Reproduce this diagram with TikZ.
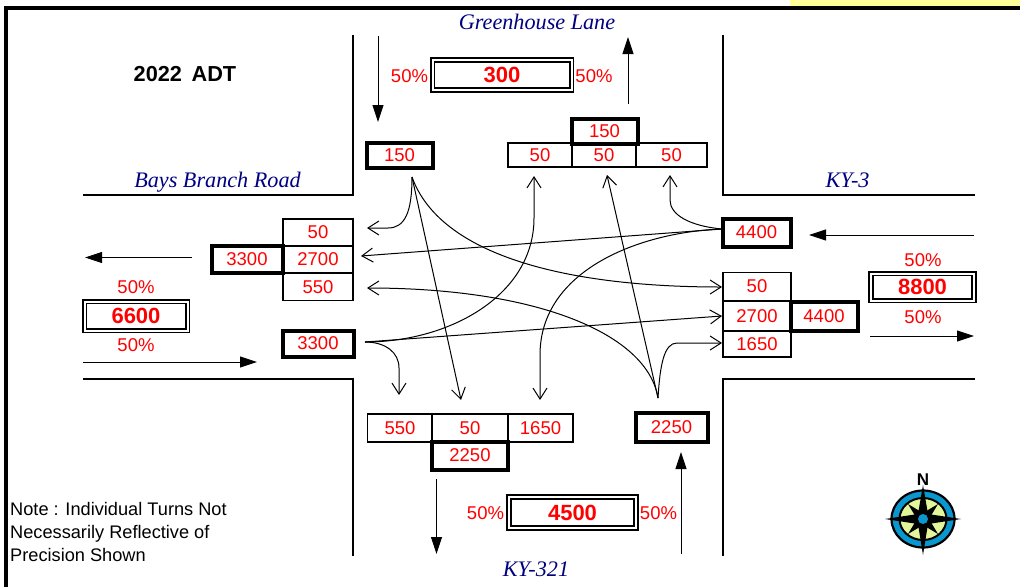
\documentclass[tikz,border=0pt]{standalone}
\usepackage{fontspec}
\setmainfont{Liberation Sans}
\newfontfamily\roadfont{Liberation Serif}
\usetikzlibrary{arrows.meta}
\definecolor{adtred}{HTML}{FF0000}
\definecolor{adtnavy}{HTML}{000080}
\definecolor{adtyellow}{HTML}{FFFF99}
\definecolor{adtblue}{HTML}{0A97D0}
\definecolor{adtpale}{HTML}{E2F59C}
\tikzset{
  adt cell/.style={draw=black, line width=1.4pt, inner sep=0pt, outer sep=0pt, text=adtred,
    font=\fontsize{18.5}{20}\selectfont},
  adt leg/.style={adt cell, line width=4pt},
  adt total/.style={adt cell, double, line width=1.6pt, double distance=2pt,
    font=\fontsize{22}{24}\selectfont\bfseries},
  adt pct/.style={inner sep=0pt, text=adtred, font=\fontsize{18.5}{20}\selectfont},
  adt road/.style={inner sep=0pt, text=adtnavy, font=\fontsize{22.2}{24}\selectfont\roadfont\itshape},
  adt note/.style={inner sep=0pt, align=left, font=\fontsize{18.2}{23}\selectfont},
  adt curb/.style={line width=2pt, draw=black},
  adt flow/.style={-{Stealth[length=17pt,width=11pt,inset=0pt]}, line width=0.9pt, draw=black},
  adt turn/.style={-{Straight Barb[length=11pt,width=14pt]}, line width=1pt, draw=black}
}
\begin{document}
\begin{tikzpicture}[x=1pt, y=-1pt]
  \useasboundingbox (0,0) rectangle (1020,587);
  \fill[adtyellow] (790,0) rectangle (1020,6);
  \draw[line width=4pt] (6,587) -- (6,8) -- (1020,8);

  \draw[adt curb] (353,35) -- (353,195) -- (83,195);
  \draw[adt curb] (723,35) -- (723,195) -- (975,195);
  \draw[adt curb] (83,379) -- (353,379) -- (353,556);
  \draw[adt curb] (975,379) -- (723,379) -- (723,556);

  \node[adt road] (greenhouse) at (537,22) {Greenhouse Lane};
  \node[adt road] (bays) at (217.5,182) {Bays Branch Road};
  \node[adt road] (kythree) at (847.5,180.5) {KY-3};
  \node[adt road] (kyroute) at (536,569.5) {KY-321};
  \node[inner sep=0pt, font=\fontsize{21.7}{24}\selectfont\bfseries] (title) at (185,74.5) {2022\, ADT};
  \node[adt note, anchor=north west] (note) at (10,502) {Note : Individual Turns Not\\Necessarily Reflective of\\Precision Shown};

  \node[adt total, minimum width=139pt, minimum height=30pt] (totaln) at (502,75) {300};
  \node[adt pct] (pctnw) at (409.5,76) {50\%};
  \node[adt pct] (pctne) at (594,76) {50\%};
  \node[adt total, minimum width=103pt, minimum height=29pt] (totalw) at (136,316) {6600};
  \node[adt pct] (pctwa) at (136,287) {50\%};
  \node[adt pct] (pctwb) at (136,345) {50\%};
  \node[adt total, minimum width=103pt, minimum height=27pt] (totale) at (922.5,287) {8800};
  \node[adt pct] (pctea) at (923,260) {50\%};
  \node[adt pct] (pcteb) at (923,317) {50\%};
  \node[adt total, minimum width=127pt, minimum height=31pt] (totals) at (572.5,512.5) {4500};
  \node[adt pct] (pctsw) at (485.5,513) {50\%};
  \node[adt pct] (pctse) at (658.5,513) {50\%};

  \node[adt cell, minimum width=64pt, minimum height=24pt] (nleft) at (540,155) {50};
  \node[adt cell, minimum width=64pt, minimum height=24pt] (nthru) at (604,155) {50};
  \node[adt cell, minimum width=71pt, minimum height=24pt] (nright) at (671.5,155) {50};
  \node[adt leg, minimum width=66pt, minimum height=25pt] (nout) at (604.5,131) {150};
  \node[adt leg, minimum width=66pt, minimum height=25pt] (nin) at (399.5,155) {150};

  \node[adt cell, minimum width=70pt, minimum height=27pt] (wtop) at (318,232.5) {50};
  \node[adt cell, minimum width=70pt, minimum height=27pt] (wthru) at (318,259.5) {2700};
  \node[adt cell, minimum width=70pt, minimum height=27pt] (wbot) at (318,287) {550};
  \node[adt leg, minimum width=71pt, minimum height=27pt] (wout) at (247,259) {3300};
  \node[adt leg, minimum width=71pt, minimum height=26pt] (win) at (318,343.5) {3300};

  \node[adt cell, minimum width=68pt, minimum height=28pt] (etop) at (757,286.5) {50};
  \node[adt cell, minimum width=68pt, minimum height=30pt] (ethru) at (757,316) {2700};
  \node[adt cell, minimum width=68pt, minimum height=26pt] (ebot) at (757,344) {1650};
  \node[adt leg, minimum width=67pt, minimum height=29pt] (eout) at (824,316) {4400};
  \node[adt leg, minimum width=68pt, minimum height=28pt] (ein) at (756.5,232.5) {4400};

  \node[adt cell, minimum width=65pt, minimum height=28pt] (sleft) at (400,428) {550};
  \node[adt cell, minimum width=76pt, minimum height=28pt] (sthru) at (470,428) {50};
  \node[adt cell, minimum width=65pt, minimum height=28pt] (sright) at (540.5,428) {1650};
  \node[adt leg, minimum width=76pt, minimum height=28pt] (sout) at (470,455.5) {2250};
  \node[adt leg, minimum width=72pt, minimum height=29pt] (sin) at (671.5,427) {2250};

  \coordinate (nflowa) at (378,36);
  \coordinate (nflowb) at (378,122);
  \coordinate (nflowc) at (628,104);
  \coordinate (nflowd) at (628,37);
  \coordinate (wflowa) at (192,257.5);
  \coordinate (wflowb) at (85,257.5);
  \coordinate (wflowc) at (83,362);
  \coordinate (wflowd) at (257,362);
  \coordinate (eflowa) at (974,235);
  \coordinate (eflowb) at (809,235);
  \coordinate (eflowc) at (870,336);
  \coordinate (eflowd) at (974,336);
  \coordinate (sflowa) at (436.5,479);
  \coordinate (sflowb) at (436.5,554);
  \coordinate (sflowc) at (681,554);
  \coordinate (sflowd) at (681,452);
  \draw[adt flow] (nflowa) -- (nflowb);
  \draw[adt flow] (nflowc) -- (nflowd);
  \draw[adt flow] (wflowa) -- (wflowb);
  \draw[adt flow] (wflowc) -- (wflowd);
  \draw[adt flow] (eflowa) -- (eflowb);
  \draw[adt flow] (eflowc) -- (eflowd);
  \draw[adt flow] (sflowa) -- (sflowb);
  \draw[adt flow] (sflowc) -- (sflowd);

  \coordinate (nturn) at (412,177);
  \coordinate (eturn) at (722,229);
  \coordinate (wturn) at (365,342);
  \coordinate (sturn) at (658,398);
  \coordinate (wtoptip) at (367,228);
  \coordinate (wthrutip) at (361,256);
  \coordinate (wbottip) at (367,288);
  \coordinate (nlefttip) at (534,176);
  \coordinate (nthrutip) at (607,175);
  \coordinate (nrighttip) at (670,175);
  \coordinate (etoptip) at (722,287);
  \coordinate (ethrutip) at (722,316);
  \coordinate (ebottip) at (722,343);
  \coordinate (slefttip) at (399,395);
  \coordinate (sthrutip) at (461,400);
  \coordinate (srighttip) at (540,400);

  \draw[adt turn] (nturn) .. controls (412,212) and (405,228) .. (388,228) -- (wtoptip);
  \draw[adt turn] (nturn) -- (sthrutip);
  \draw[adt turn] (nturn) .. controls (440,255) and (565,287) .. (etoptip);
  \draw[adt turn] (eturn) .. controls (690,226) and (670,215) .. (670,200) -- (nrighttip);
  \draw[adt turn] (eturn) -- (wthrutip);
  \draw[adt turn] (eturn) .. controls (640,232) and (540,270) .. (540,355) -- (srighttip);
  \draw[adt turn] (wturn) .. controls (450,342) and (534,295) .. (534,218) -- (nlefttip);
  \draw[adt turn] (wturn) -- (ethrutip);
  \draw[adt turn] (wturn) .. controls (385,342) and (399,352) .. (399,368) -- (slefttip);
  \draw[adt turn] (sturn) .. controls (648,335) and (540,288) .. (wbottip);
  \draw[adt turn] (sturn) -- (nthrutip);
  \draw[adt turn] (sturn) .. controls (660,365) and (664,343) .. (677,343) -- (ebottip);

  \node[inner sep=0pt, font=\fontsize{17}{18}\selectfont\bfseries] (north) at (923,479.5) {N};
  \draw[fill=adtblue, line width=2.2pt] (923,519) ellipse (31.5pt and 28.5pt);
  \draw[fill=adtpale, line width=2pt] (923,519) ellipse (23.5pt and 21pt);
  \fill (923,485) -- (928,514) -- (961,519) -- (928,524) -- (923,555) -- (918,524) -- (885,519) -- (918,514) -- cycle;
  \fill (923,513) -- (938,504) -- (929,519) -- (938,534) -- (923,525) -- (908,534) -- (917,519) -- (908,504) -- cycle;
  \fill[adtblue] (923,519) circle (5pt);
\end{tikzpicture}
\end{document}
